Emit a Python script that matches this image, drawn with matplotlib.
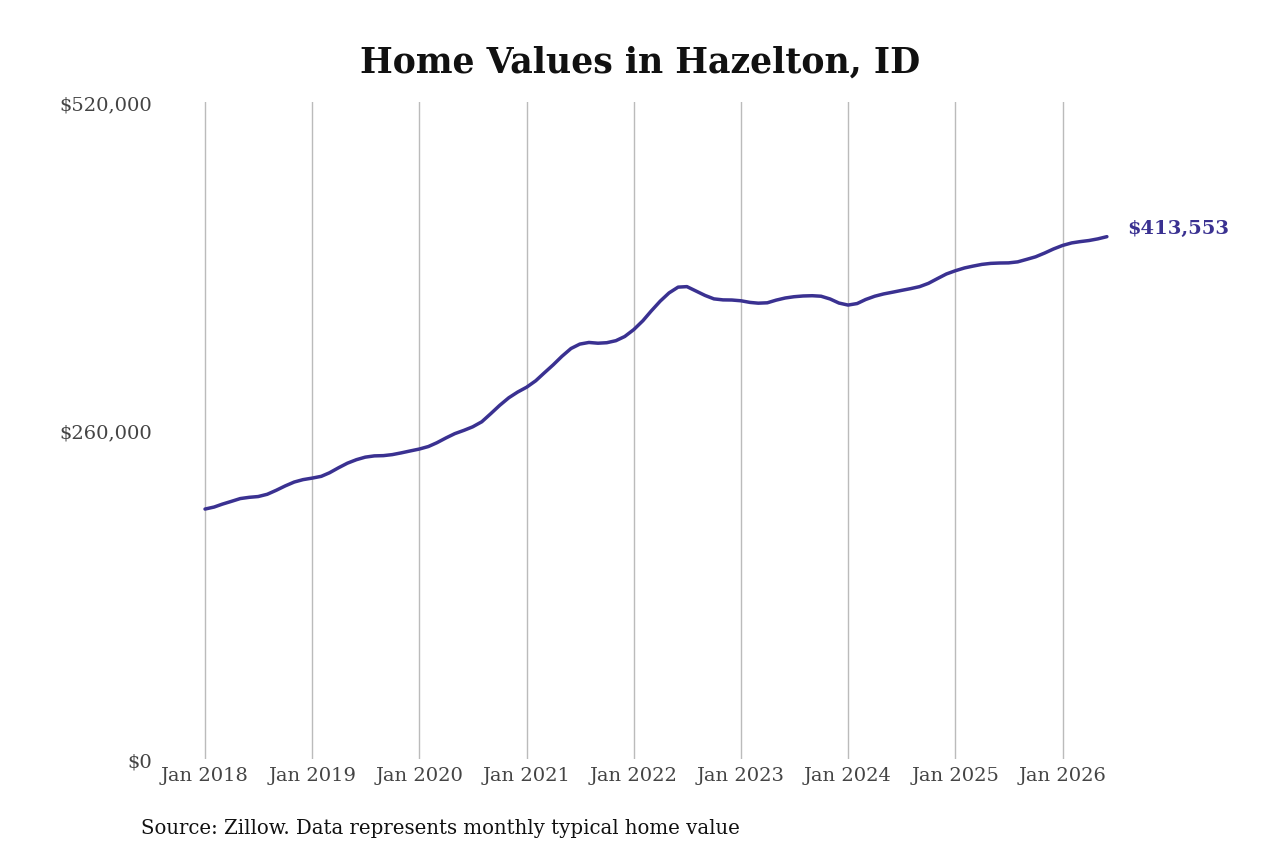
import numpy as np
import pandas as pd
import matplotlib
matplotlib.use("Agg")
import matplotlib.pyplot as plt
import matplotlib.dates as mdates
from matplotlib.ticker import FuncFormatter

# --------------------------------------------------
# DATA (monthly typical home value)
# --------------------------------------------------

start_month = "2018-01-01"

values_2018 = [197900, 199500, 201800, 204000, 206200, 207200,
               207800, 209600, 212800, 216200, 219300, 221200]
values_2019 = [222400, 223800, 226600, 230600, 234200, 237000,
               239000, 240000, 240200, 241000, 242400, 243900]
values_2020 = [245400, 247400, 250400, 254200, 257600, 260200,
               263000, 267000, 273500, 280000, 286000, 290500]
values_2021 = [294400, 299500, 305500, 312000, 318800, 325000,
               328500, 329800, 329200, 329600, 331200, 334500]
values_2022 = [340000, 347000, 354600, 362500, 369000, 373600,
               374000, 370500, 367000, 364300, 363500, 363400]
values_2023 = [362800, 361500, 360900, 361200, 363300, 365000,
               366000, 366600, 366800, 366400, 364200, 361000]
values_2024 = [359400, 360600, 363800, 366400, 368200, 369600,
               371000, 372400, 374000, 376600, 380400, 384000]
values_2025 = [386600, 388800, 390200, 391600, 392400, 392700,
               392800, 393600, 395600, 397600, 400600, 403800]
values_2026 = [406600, 408600, 409600, 410500, 411800, 413553]

values = (values_2018 + values_2019 + values_2020 + values_2021 + values_2022
          + values_2023 + values_2024 + values_2025 + values_2026)
dates = pd.date_range(start_month, periods=len(values), freq="MS")

tick_years = list(range(2018, 2027))
y_ticks = [0, 260000, 520000]

title = "Home Values in Hazelton, ID"
source = "Source: Zillow. Data represents monthly typical home value"

# --------------------------------------------------
# PLOT
# --------------------------------------------------

line_color = "#3a3191"
plt.rcParams["font.family"] = "DejaVu Serif"

fig = plt.figure(figsize=(12.8, 8.53), dpi=100)
ax = fig.add_axes([0.125, 0.109, 0.745, 0.770])

ax.plot(dates, values, color=line_color, linewidth=2.5, solid_capstyle="round")

# x range: Jan 2018 sits ~45px in from the left edge
x0 = mdates.date2num(pd.Timestamp("2018-01-01"))
x1 = mdates.date2num(pd.Timestamp("2026-01-01"))
px_per_day = (1062 - 205) / (x1 - x0)
ax.set_xlim(x0 - 45 / px_per_day, x0 + (1113 - 205) / px_per_day)
ax.set_ylim(0, 520000)

ax.set_xticks([pd.Timestamp(f"{y}-01-01") for y in tick_years])
ax.set_xticklabels([f"Jan {y}" for y in tick_years])
ax.set_yticks(y_ticks)
ax.yaxis.set_major_formatter(FuncFormatter(lambda v, p: f"${v:,.0f}"))

ax.grid(axis="x", color="#bbbbbb", linewidth=1)
ax.grid(axis="y", visible=False)
for s in ax.spines.values():
    s.set_visible(False)
ax.tick_params(axis="both", length=0, labelsize=14, colors="#444444")
ax.tick_params(axis="x", pad=5)
ax.tick_params(axis="y", pad=6)

# end label
ax.annotate(f"${values[-1]:,}", xy=(dates[-1], values[-1]),
            xytext=(15, 6), textcoords="offset points",
            color=line_color, fontsize=14, fontweight="bold",
            va="center", ha="left")

fig.text(0.5, 0.927, title, ha="center", va="center",
         fontsize=25, fontweight="bold", color="#111111")
fig.text(0.110, 0.029, source, ha="left", va="center",
         fontsize=14.2, color="#111111")

fig.savefig("out.png", dpi=100)
